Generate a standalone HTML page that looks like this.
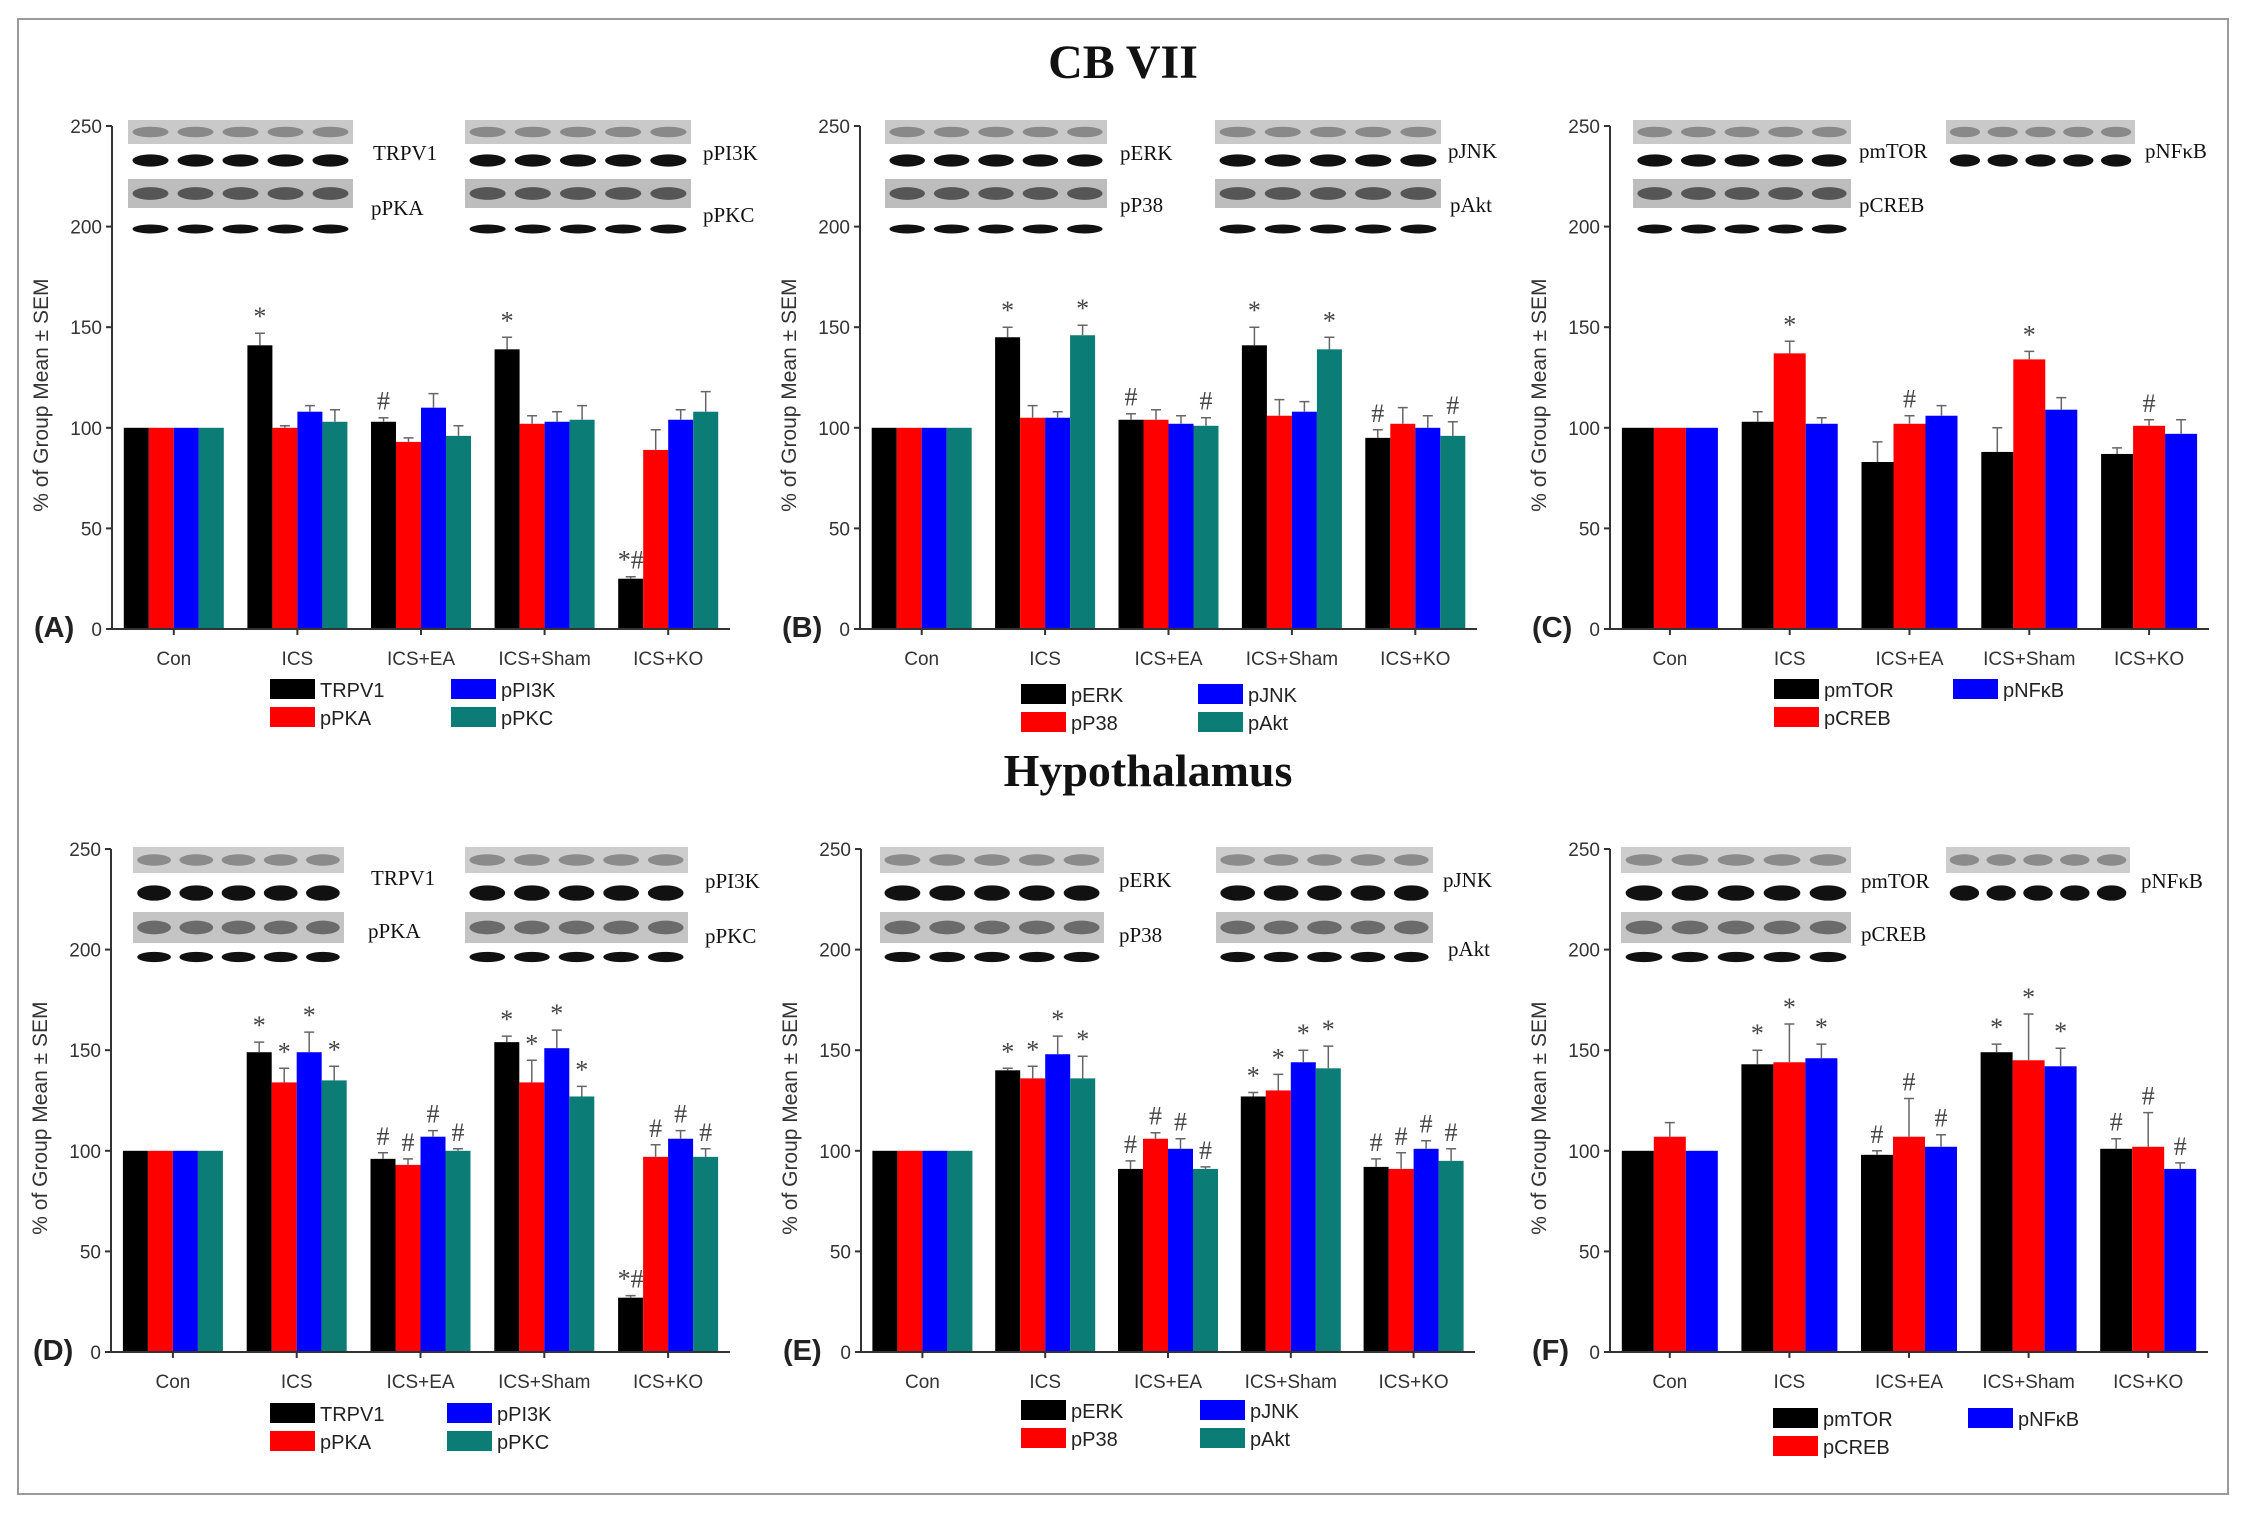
<!DOCTYPE html>
<html><head><meta charset="utf-8"><style>
html,body{margin:0;padding:0;background:#fff;}
svg{display:block;font-family:"Liberation Sans",sans-serif;}
</style></head><body>
<svg id="fig" width="2243" height="1517" viewBox="0 0 2243 1517" xmlns="http://www.w3.org/2000/svg">
<rect x="18" y="19" width="2210" height="1475" fill="#fff" stroke="#9a9a9a" stroke-width="2"/>
<text x="1123" y="78" text-anchor="middle" font-family="Liberation Serif,serif" font-weight="bold" font-size="48" fill="#111">CB VII</text>
<text x="1148" y="786" text-anchor="middle" font-family="Liberation Serif,serif" font-weight="bold" font-size="46" fill="#111">Hypothalamus</text>
</svg>
<script>
const categories = ["Con","ICS","ICS+EA","ICS+Sham","ICS+KO"];
const yTicks = [0,50,100,150,200,250];
const seriesA = ["TRPV1","pPKA","pPI3K","pPKC"];
const seriesB = ["pERK","pP38","pJNK","pAkt"];
const seriesC = ["pmTOR","pCREB","pNF\u03baB"];
// values [series][group]
const valuesA = [[100,141,103,139,25],[100,100,93,102,89],[100,108,110,103,104],[100,103,96,104,108]];
const errorsA = [[0,6,2,6,1],[0,1,2,4,10],[0,3,7,5,5],[0,6,5,7,10]];
const marksA = [["","*","#","*","*#"],["","","","",""],["","","","",""],["","","","",""]];
const valuesB = [[100,145,104,141,95],[100,105,104,106,102],[100,105,102,108,100],[100,146,101,139,96]];
const errorsB = [[0,5,3,9,4],[0,6,5,8,8],[0,3,4,5,6],[0,5,4,6,7]];
const marksB = [["","*","#","*","#"],["","","","",""],["","","","",""],["","*","#","*","#"]];
const valuesC = [[100,103,83,88,87],[100,137,102,134,101],[100,102,106,109,97]];
const errorsC = [[0,5,10,12,3],[0,6,4,4,3],[0,3,5,6,7]];
const marksC = [["","","","",""],["","*","#","*","#"],["","","","",""]];
const valuesD = [[100,149,96,154,27],[100,134,93,134,97],[100,149,107,151,106],[100,135,100,127,97]];
const errorsD = [[0,5,3,3,1],[0,7,3,11,6],[0,10,3,9,4],[0,7,1,5,4]];
const marksD = [["","*","#","*","*#"],["","*","#","*","#"],["","*","#","*","#"],["","*","#","*","#"]];
const valuesE = [[100,140,91,127,92],[100,136,106,130,91],[100,148,101,144,101],[100,136,91,141,95]];
const errorsE = [[0,1,4,2,4],[0,6,3,8,8],[0,9,5,6,4],[0,11,1,11,6]];
const marksE = [["","*","#","*","#"],["","*","#","*","#"],["","*","#","*","#"],["","*","#","*","#"]];
const valuesF = [[100,143,98,149,101],[107,144,107,145,102],[100,146,102,142,91]];
const errorsF = [[0,7,2,4,5],[7,19,19,23,17],[0,7,6,9,3]];
const marksF = [["","*","#","*","#"],["","*","#","*","#"],["","*","#","*","#"]];

const colors4 = ["#000000","#ff0000","#0000ff","#0b7c76"];
const colors3 = ["#000000","#ff0000","#0000ff"];

const strips1 = [[-6,18,"#c9c9c9",0.35],[25,44,"#ffffff",1],[53,82,"#bdbdbd",0.6],[96,110,"#ffffff",1]];
const strips2 = [[-2,24,"#cdcdcd",0.35],[32,56,"#ffffff",1],[63,94,"#c4c4c4",0.5],[100,116,"#ffffff",1]];

const layouts = [
 {id:"a",letter:"(A)",ax:112,y0:629,y250:126,xe:730,series:seriesA,vals:valuesA,errs:errorsA,marks:marksA,cols:colors4,strips:strips1,
  blotL:[128,353],blotR:[465,691],rStrips:4,labels:[["TRPV1",373,160],["pPKA",371,215],["pPI3K",703,160],["pPKC",703,222]],
  leg:{x1:270,x2:451,r1:689,r2:717}},
 {id:"b",letter:"(B)",ax:860,y0:629,y250:126,xe:1477,series:seriesB,vals:valuesB,errs:errorsB,marks:marksB,cols:colors4,strips:strips1,
  blotL:[885,1107],blotR:[1215,1441],rStrips:4,labels:[["pERK",1120,160],["pP38",1120,212],["pJNK",1448,158],["pAkt",1450,212]],
  leg:{x1:1021,x2:1198,r1:694,r2:722}},
 {id:"c",letter:"(C)",ax:1610,y0:629,y250:126,xe:2209,series:seriesC,vals:valuesC,errs:errorsC,marks:marksC,cols:colors3,strips:strips1,
  blotL:[1633,1851],blotR:[1946,2135],rStrips:2,labels:[["pmTOR",1859,158],["pCREB",1859,212],["pNF\u03baB",2145,158]],
  leg:{x1:1774,x2:1953,r1:689,r2:717}},
 {id:"d",letter:"(D)",ax:111,y0:1352,y250:849,xe:730,series:seriesA,vals:valuesD,errs:errorsD,marks:marksD,cols:colors4,strips:strips2,
  blotL:[133,344],blotR:[465,688],rStrips:4,labels:[["TRPV1",371,885],["pPKA",368,938],["pPI3K",705,888],["pPKC",705,943]],
  leg:{x1:270,x2:447,r1:1413,r2:1441}},
 {id:"e",letter:"(E)",ax:861,y0:1352,y250:849,xe:1475,series:seriesB,vals:valuesE,errs:errorsE,marks:marksE,cols:colors4,strips:strips2,
  blotL:[880,1104],blotR:[1216,1433],rStrips:4,labels:[["pERK",1119,887],["pP38",1119,942],["pJNK",1443,887],["pAkt",1448,956]],
  leg:{x1:1021,x2:1200,r1:1410,r2:1438}},
 {id:"f",letter:"(F)",ax:1610,y0:1352,y250:849,xe:2208,series:seriesC,vals:valuesF,errs:errorsF,marks:marksF,cols:colors3,strips:strips2,
  blotL:[1621,1851],blotR:[1946,2130],rStrips:2,labels:[["pmTOR",1861,888],["pCREB",1861,941],["pNF\u03baB",2141,888]],
  leg:{x1:1773,x2:1968,r1:1418,r2:1446}}
];

const NS="http://www.w3.org/2000/svg";
const svg=document.getElementById("fig");
function mk(tag,attrs,parent){const e=document.createElementNS(NS,tag);for(const k in attrs)e.setAttribute(k,attrs[k]);(parent||svg).appendChild(e);return e;}

function drawBlot(g,x0,x1,yTop,nStrips,strips){
  for(let s=0;s<nStrips;s++){
    const st=strips[s];
    const r=mk("rect",{x:x0,y:yTop+st[0],width:x1-x0,height:st[1]-st[0],fill:st[2]},g);
    
    
    const lw=(x1-x0)/5;
    for(let l=0;l<5;l++){
      const cx=x0+lw*(l+0.5);const cy=yTop+(st[0]+st[1])/2;
      const b=mk("ellipse",{cx:cx,cy:cy,rx:lw*0.4,ry:(st[1]-st[0])*(st[3]===1?0.32:0.22),fill:"#111","fill-opacity":st[3]},g);
      
      
    }
  }
}

layouts.forEach(L=>{
  const g=mk("g",{});
  
  
  const ys=v=>L.y0-(v/250)*(L.y0-L.y250);
  const gw=(L.xe-L.ax)/categories.length;
  const gx=i=>L.ax+gw*(i+0.5);
  const nS=L.series.length;
  const bw=nS===4?25:32;
  drawBlot(g,L.blotL[0],L.blotL[1],L.y250,4,L.strips);
  drawBlot(g,L.blotR[0],L.blotR[1],L.y250,L.rStrips,L.strips);
  L.labels.forEach(lb=>{
    const t=mk("text",{x:lb[1],y:lb[2],"font-family":"Liberation Serif,serif","font-size":"21",fill:"#111"},g);
    t.textContent=lb[0];
    
    
  });
  for(let s=0;s<nS;s++){
    for(let i=0;i<categories.length;i++){
      const v=L.vals[s][i];
      const x=gx(i)-bw*nS/2+bw*s;
      const r=mk("rect",{x:x,y:ys(v),width:bw,height:L.y0-ys(v),fill:L.cols[s]},g);
      
      
      const e=L.errs[s][i];
      if(e>0){
        const cx=x+bw/2;
        const el=mk("path",{d:`M${cx},${ys(v)}V${ys(v+e)}M${cx-5},${ys(v+e)}H${cx+5}`,stroke:"#666","stroke-width":1.5,fill:"none"},g);
        
        
      }
      const m=L.marks[s][i];
      if(m){
        const t=mk("text",{x:x+bw/2,y:ys(v+e)-8,"text-anchor":"middle","font-family":"Liberation Serif,serif","font-size":"26",fill:"#444"},g);
        t.textContent=m;
        
        
      }
    }
  }
  const ax=mk("path",{d:`M${L.ax},${L.y250}V${L.y0}H${L.xe}`,stroke:"#333","stroke-width":2,fill:"none"},g);
  
  
  yTicks.forEach(tv=>{
    const tk=mk("line",{x1:L.ax-6,x2:L.ax,y1:ys(tv),y2:ys(tv),stroke:"#333","stroke-width":2},g);
    
    
    const t=mk("text",{x:L.ax-10,y:ys(tv)+7,"text-anchor":"end","font-size":"19",fill:"#333"},g);
    t.textContent=tv;
    
    
  });
  categories.forEach((c,i)=>{
    const tk=mk("line",{x1:gx(i),x2:gx(i),y1:L.y0,y2:L.y0+6,stroke:"#333","stroke-width":2},g);
    
    
    const t=mk("text",{x:gx(i),y:L.y0+36,"text-anchor":"middle","font-size":"19",fill:"#333"},g);
    t.textContent=c;
    
    
  });
  const cy=L.y0-0.465*(L.y0-L.y250);
  const yt=mk("text",{x:0,y:0,transform:`translate(${L.ax-64},${cy}) rotate(-90)`,"text-anchor":"middle","font-size":"21",fill:"#333"},g);
  yt.textContent="% of Group Mean \u00b1 SEM";
  
  
  const pl=mk("text",{x:L.ax-78,y:L.y0+8,"font-size":"29","font-weight":"bold",fill:"#222"},g);
  pl.textContent=L.letter;
  
  
  const pos=nS===4?[[L.leg.x1,L.leg.r1],[L.leg.x1,L.leg.r2],[L.leg.x2,L.leg.r1],[L.leg.x2,L.leg.r2]]:[[L.leg.x1,L.leg.r1],[L.leg.x1,L.leg.r2],[L.leg.x2,L.leg.r1]];
  L.series.forEach((s,k)=>{
    const sw=mk("rect",{x:pos[k][0],y:pos[k][1]-10,width:45,height:20,fill:L.cols[k]},g);
    
    
    const t=mk("text",{x:pos[k][0]+50,y:pos[k][1]+8,"font-size":"20",fill:"#222"},g);
    t.textContent=s;
    
    
  });
});
</script>
</body></html>
